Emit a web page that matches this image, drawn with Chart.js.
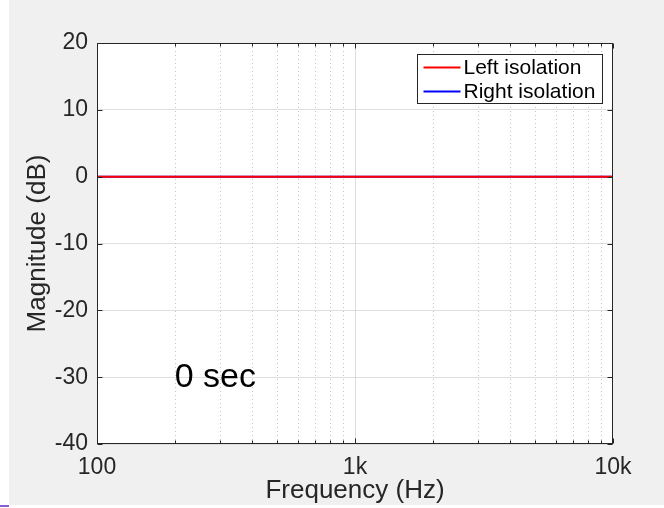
<!DOCTYPE html>
<html>
<head>
<meta charset="utf-8">
<script src="https://cdn.jsdelivr.net/npm/chart.js@4"></script>
<style>
  html, body { margin: 0; padding: 0; background: #fff; }
  canvas { display: block; }
</style>
</head>
<body>
<canvas id="isoChart" width="664" height="508"></canvas>
<script>
// values: both isolation curves sit flat at 0 dB
const freqs = [100, 200, 500, 1000, 2000, 5000, 10000];
const leftIso = [0, 0, 0, 0, 0, 0, 0];
const rightIso = [0, 0, 0, 0, 0, 0, 0];

const xTicks = [100, 200, 300, 400, 500, 600, 700, 800, 900,
  1000, 2000, 3000, 4000, 5000, 6000, 7000, 8000, 9000, 10000];
const xMajor = [100, 1000, 10000];
const xTickLabels = { 100: "100", 1000: "1k", 10000: "10k" };
const yTicks = [-40, -30, -20, -10, 0, 10, 20];

const annotText = "0 sec";
const annotAt = { x: 200, y: -30 };

const FONT = "'Liberation Sans', Arial, Helvetica, sans-serif";
const AX = "#262626";

const matlabLook = {
  id: "matlabLook",
  beforeDraw(chart) {
    const c = chart.ctx;
    const a = chart.chartArea;
    c.save();
    c.fillStyle = "#ffffff";
    c.fillRect(0, 0, chart.width, chart.height);
    c.fillStyle = "#f0f0f0";
    c.fillRect(9, 0, chart.width - 9, 505);
    c.fillStyle = "#8a5cd6";
    c.fillRect(0, 505, 9, 2);
    c.fillStyle = "#ffffff";
    c.fillRect(a.left, a.top, a.right - a.left, a.bottom - a.top);
    c.restore();
  },
  beforeDatasetsDraw(chart) {
    const c = chart.ctx;
    const a = chart.chartArea;
    const xs = chart.scales.x;
    c.save();
    c.lineWidth = 1;
    for (const v of xTicks) {
      if (v === 100 || v === 10000) continue;
      const px = Math.round(xs.getPixelForValue(v)) + 0.5;
      if (xMajor.includes(v)) {
        c.strokeStyle = "#dcdcdc";
        c.setLineDash([]);
      } else {
        c.strokeStyle = "#c4c4c4";
        c.setLineDash([1, 3]);
      }
      c.beginPath();
      c.moveTo(px, a.top);
      c.lineTo(px, a.bottom);
      c.stroke();
    }
    c.restore();
  },
  afterDraw(chart) {
    const c = chart.ctx;
    const a = chart.chartArea;
    const xs = chart.scales.x;
    const ys = chart.scales.y;
    const L = Math.round(a.left) + 0.5, R = Math.round(a.right) - 0.5;
    const T = Math.round(a.top) + 0.5, B = Math.round(a.bottom) - 0.5;
    c.save();
    c.strokeStyle = AX;
    c.lineWidth = 1;
    c.setLineDash([]);
    c.strokeRect(L, T, R - L, B - T);
    c.beginPath();
    for (const v of xTicks) {
      const px = Math.round(xs.getPixelForValue(v)) + 0.5;
      const len = xMajor.includes(v) ? 5 : 3;
      c.moveTo(px, B); c.lineTo(px, B - len);
      c.moveTo(px, T); c.lineTo(px, T + len);
    }
    for (const v of yTicks) {
      const py = Math.round(ys.getPixelForValue(v)) + 0.5;
      c.moveTo(L, py); c.lineTo(L + 5, py);
      c.moveTo(R, py); c.lineTo(R - 5, py);
    }
    c.stroke();

    // text annotation
    c.fillStyle = "#000";
    c.font = "34px " + FONT;
    c.textAlign = "left";
    c.textBaseline = "middle";
    c.fillText(annotText, xs.getPixelForValue(annotAt.x), ys.getPixelForValue(annotAt.y));

    // legend inside the axes, top right
    c.font = "21px " + FONT;
    const items = chart.data.datasets.map(d => ({ text: d.label, color: d.borderColor }));
    const tw = Math.max(...items.map(it => c.measureText(it.text).width));
    const w = Math.round(6 + 37 + 3 + tw + 7);
    const h = 49;
    const bx = Math.round(a.right) - 11 - w + 0.5;
    const by = Math.round(a.top) + 11 + 0.5;
    c.fillStyle = "#fff";
    c.fillRect(bx, by, w, h);
    c.strokeStyle = AX;
    c.strokeRect(bx, by, w, h);
    items.forEach((it, i) => {
      const cy = by + 13 + i * 24;
      c.strokeStyle = it.color;
      c.lineWidth = 2;
      c.beginPath();
      c.moveTo(bx + 6, cy);
      c.lineTo(bx + 43, cy);
      c.stroke();
      c.fillStyle = "#000";
      c.fillText(it.text, bx + 46, cy + 1);
    });
    c.restore();
  }
};

new Chart(document.getElementById("isoChart").getContext("2d"), {
  type: "line",
  data: {
    datasets: [
      {
        label: "Left isolation",
        data: freqs.map((f, i) => ({ x: f, y: leftIso[i] })),
        borderColor: "#ff0000",
        borderWidth: 2,
        pointRadius: 0,
        fill: false
      },
      {
        label: "Right isolation",
        data: freqs.map((f, i) => ({ x: f, y: rightIso[i] })),
        borderColor: "#0000ff",
        borderWidth: 2,
        pointRadius: 0,
        fill: false
      }
    ]
  },
  options: {
    responsive: false,
    animation: false,
    events: [],
    layout: { padding: { left: 0, right: 51, top: 43, bottom: 0 } },
    plugins: {
      legend: { display: false },
      tooltip: { enabled: false }
    },
    scales: {
      x: {
        type: "logarithmic",
        min: 100,
        max: 10000,
        afterBuildTicks: s => { s.ticks = xTicks.map(v => ({ value: v })); },
        afterFit: s => { s.height = 64; },
        grid: { display: false },
        border: { display: false },
        ticks: {
          autoSkip: false,
          maxRotation: 0,
          padding: 2,
          color: AX,
          font: { family: FONT, size: 23 },
          callback: v => xTickLabels[v] || ""
        },
        title: {
          display: true,
          text: "Frequency (Hz)",
          color: AX,
          font: { family: FONT, size: 26 },
          padding: { top: 0, bottom: 2 }
        }
      },
      y: {
        min: -40,
        max: 20,
        afterBuildTicks: s => { s.ticks = yTicks.map(v => ({ value: v })); },
        afterFit: s => { s.width = 97; },
        grid: { color: "#dfdfdf", drawTicks: false },
        border: { display: false },
        ticks: {
          padding: 9,
          color: AX,
          font: { family: FONT, size: 23 }
        },
        title: {
          display: true,
          text: "Magnitude (dB)",
          color: AX,
          font: { family: FONT, size: 26 },
          padding: { top: 22, bottom: 0 }
        }
      }
    }
  },
  plugins: [matlabLook]
});
</script>
</body>
</html>
